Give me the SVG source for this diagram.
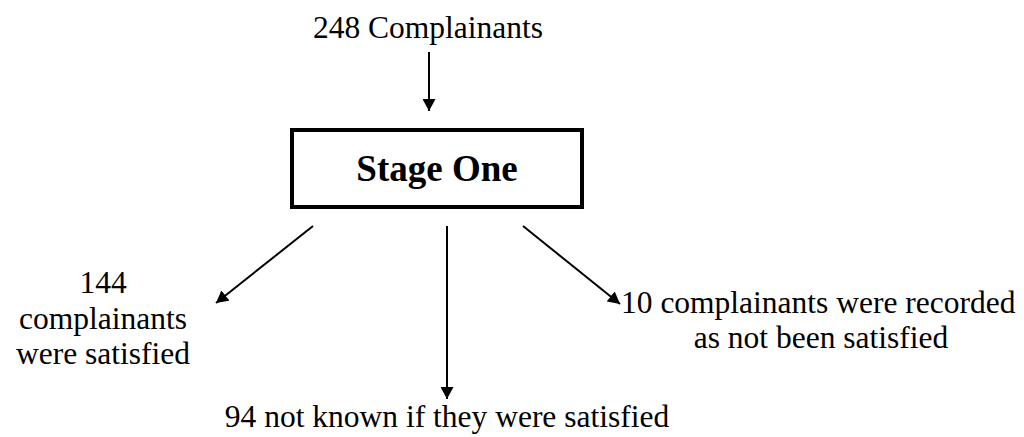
<svg xmlns="http://www.w3.org/2000/svg" width="1024" height="437" viewBox="0 0 1024 437">
<style>
text{font-family:'Liberation Serif','Times New Roman',serif;font-size:31.5px;fill:#000}
.c{text-anchor:middle}
.b{font-weight:bold;font-size:37px}
.conn line{stroke:#000;stroke-width:2}
</style>
<defs>
<marker id="ah" markerWidth="13" markerHeight="13" refX="12" refY="6.5" orient="auto" markerUnits="userSpaceOnUse">
<path d="M0,0 L12,6.5 L0,13 z" fill="#000"/>
</marker>
</defs>
<rect width="1024" height="437" fill="#fff"/>
<g id="n-top"><text class="c" x="428" y="38" font-family="Liberation Serif, serif">248 Complainants</text></g>
<g id="n-stage"><rect x="292" y="130" width="290" height="77" fill="none" stroke="#000" stroke-width="4"/><text class="c b" x="437" y="181" font-family="Liberation Serif, serif">Stage One</text></g>
<g id="n-left" font-family="Liberation Serif, serif"><text class="c" x="103" y="293">144</text><text class="c" x="103" y="329">complainants</text><text class="c" x="103" y="364">were satisfied</text></g>
<g id="n-mid"><text class="c" x="447" y="427">94 not known if they were satisfied</text></g>
<g id="n-right"><text x="621" y="313">10 complainants were recorded</text><text class="c" x="821" y="348">as not been satisfied</text></g>
<g class="conn" id="connectors">
<line x1="429" y1="52" x2="429" y2="111" marker-end="url(#ah)"/>
<line x1="313" y1="226" x2="216" y2="303" marker-end="url(#ah)"/>
<line x1="447" y1="226" x2="447" y2="399" marker-end="url(#ah)"/>
<line x1="523" y1="226" x2="620" y2="304" marker-end="url(#ah)"/>
</g>
</svg>
